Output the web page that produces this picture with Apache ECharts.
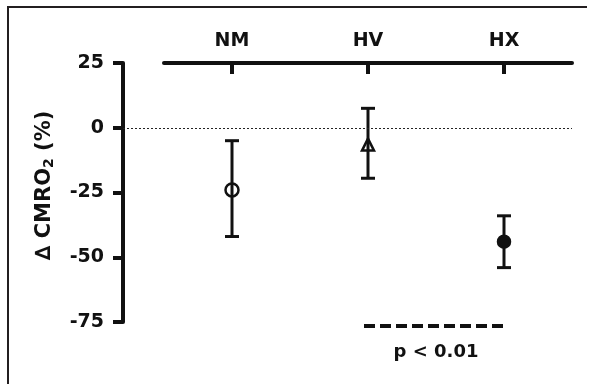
<!DOCTYPE html>
<html>
<head>
<meta charset="utf-8">
<script src="https://cdn.jsdelivr.net/npm/echarts@6/dist/echarts.min.js"></script>
<style>
  html, body { margin: 0; padding: 0; background: #fff; overflow: hidden; }
  #wrap { position: relative; width: 589px; height: 384px; overflow: hidden; }
  #chart { width: 589px; height: 384px; }
  .edge { position: absolute; background: #231f20; pointer-events: none; }
  #edge-top { left: 7px; top: 6px; width: 580px; height: 2px; }
  #edge-left { left: 7px; top: 6px; width: 2px; height: 378px; }
</style>
</head>
<body>
<div id="wrap">
  <div id="chart"></div>
  <div class="edge" id="edge-top"></div>
  <div class="edge" id="edge-left"></div>
</div>
<script>
// groups and values (ΔCMRO2, %)
const categories = ['NM', 'HV', 'HX'];
const means = [-24, -6.5, -44];
const upperErr = [-5, 7.5, -34];
const lowerErr = [-42, -19.5, -54];
const yTicks = [25, 0, -25, -50, -75];
const sigPair = ['HV', 'HX'];
const sigLevel = -76.5;
const sigText = 'p < 0.01';

const font = "'DejaVu Sans', 'Liberation Sans', Arial, sans-serif";
const black = '#111';

// marker look per group (open circle, open triangle, filled circle)
const markerStyle = [
  { symbol: 'circle', size: 13, fill: 'rgba(0,0,0,0)' },
  { symbol: 'triangle', size: 12, fill: 'rgba(0,0,0,0)' },
  { symbol: 'circle', size: 12, fill: black }
];

const chart = echarts.init(document.getElementById('chart'));

const yMin = yTicks[yTicks.length - 1];
const yMax = yTicks[0];

const option = {
  animation: false,
  grid: [
    { left: 123, right: 17, top: 63, bottom: 62 },
    { left: 164, right: 17, top: 63, bottom: 62 }
  ],
  xAxis: [
    { gridIndex: 0, type: 'value', min: 0, max: 1, show: false },
    {
      gridIndex: 1,
      type: 'category',
      position: 'top',
      data: categories,
      axisLine: { show: true, onZero: false, lineStyle: { color: black, width: 4 } },
      axisTick: { show: true, alignWithLabel: true, inside: true, length: 11, lineStyle: { width: 4, color: black } },
      axisLabel: { color: black, fontSize: 19, fontWeight: 'bold', fontFamily: font, margin: 12 },
      splitLine: { show: false }
    }
  ],
  yAxis: [
    {
      gridIndex: 0,
      type: 'value',
      min: yMin,
      max: yMax,
      interval: 25,
      name: '{a|∆ CMRO}{s|2}{a| (%)}',
      nameLocation: 'middle',
      nameRotate: 90,
      nameGap: 67,
      nameTextStyle: {
        padding: [0, 0, 0, 14],
        rich: {
          a: { fontSize: 21, fontWeight: 'bold', fontFamily: font, color: black },
          s: { fontSize: 14, fontWeight: 'bold', fontFamily: font, color: black, padding: [9, 0, 0, 0] }
        }
      },
      axisLine: { show: true, lineStyle: { color: black, width: 4 } },
      axisTick: { show: true, length: 10, lineStyle: { width: 4, color: black } },
      axisLabel: { color: black, fontSize: 19, fontWeight: 'bold', fontFamily: font, margin: 19 },
      splitLine: { show: false }
    },
    { gridIndex: 1, type: 'value', min: yMin, max: yMax, show: false }
  ],
  series: [
    {
      // dotted zero reference line spanning from the y axis
      type: 'line',
      xAxisIndex: 0,
      yAxisIndex: 0,
      data: [],
      markLine: {
        silent: true,
        symbol: 'none',
        label: { show: false },
        lineStyle: { color: '#222', width: 1, type: [2, 2] },
        data: [{ yAxis: 0 }]
      }
    },
    {
      // error bars
      type: 'custom',
      xAxisIndex: 1,
      yAxisIndex: 1,
      data: categories.map((c, i) => [i, lowerErr[i], upperErr[i]]),
      renderItem: function (params, api) {
        const lo = api.coord([api.value(0), api.value(1)]);
        const hi = api.coord([api.value(0), api.value(2)]);
        const cap = 7;
        const style = { stroke: black, lineWidth: 3 };
        return {
          type: 'group',
          children: [
            { type: 'line', shape: { x1: lo[0], y1: lo[1], x2: hi[0], y2: hi[1] }, style },
            { type: 'line', shape: { x1: lo[0] - cap, y1: lo[1], x2: lo[0] + cap, y2: lo[1] }, style },
            { type: 'line', shape: { x1: hi[0] - cap, y1: hi[1], x2: hi[0] + cap, y2: hi[1] }, style }
          ]
        };
      },
      z: 2
    },
    {
      type: 'scatter',
      xAxisIndex: 1,
      yAxisIndex: 1,
      z: 3,
      data: means.map((m, i) => ({
        value: [i, m],
        symbol: markerStyle[i].symbol,
        symbolSize: markerStyle[i].size,
        itemStyle: { color: markerStyle[i].fill, borderColor: black, borderWidth: 2.5, opacity: 1 }
      }))
    },
    {
      // significance bar below the plot
      type: 'custom',
      xAxisIndex: 1,
      yAxisIndex: 1,
      clip: false,
      data: [[categories.indexOf(sigPair[0]), categories.indexOf(sigPair[1]), sigLevel]],
      renderItem: function (params, api) {
        const a = api.coord([api.value(0), api.value(2)]);
        const b = api.coord([api.value(1), api.value(2)]);
        return {
          type: 'group',
          children: [
            {
              type: 'line',
              shape: { x1: a[0] - 4, y1: a[1], x2: b[0], y2: b[1] },
              style: { stroke: black, lineWidth: 4, lineDash: [11, 5] }
            },
            {
              type: 'text',
              x: (a[0] + b[0]) / 2,
              y: a[1] + 26,
              style: {
                text: sigText,
                fill: black,
                font: 'bold 18px ' + font,
                align: 'center',
                verticalAlign: 'middle'
              }
            }
          ]
        };
      }
    }
  ]
};

chart.setOption(option);
window.addEventListener('resize', () => chart.resize());
</script>
</body>
</html>
